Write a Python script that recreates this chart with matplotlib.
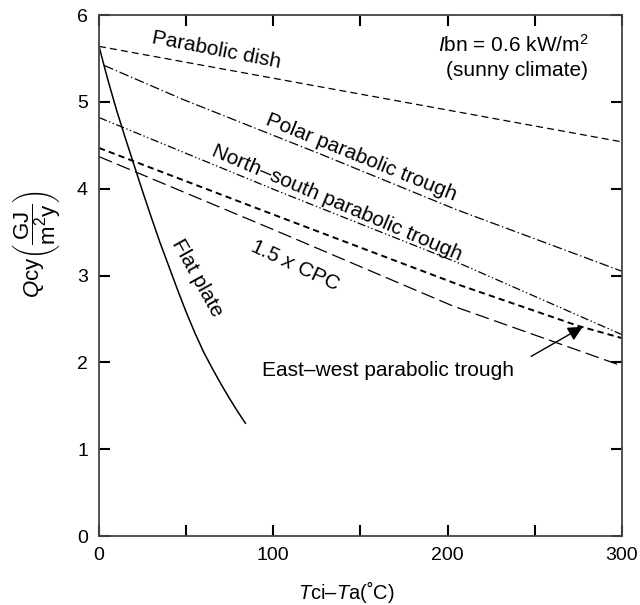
import matplotlib
matplotlib.use("Agg")
import matplotlib.pyplot as plt

plt.rcParams['font.family'] = ['Liberation Sans', 'DejaVu Sans']
plt.rcParams['mathtext.fontset'] = 'custom'
plt.rcParams['mathtext.rm'] = 'Liberation Sans'
plt.rcParams['mathtext.it'] = 'Liberation Sans:italic'
plt.rcParams['lines.scale_dashes'] = False

# values
dish_x = [0, 300]
dish_y = [5.64, 4.54]

polar_x = [3, 48, 127, 205, 300]
polar_y = [5.42, 5.03, 4.40, 3.76, 3.05]

ns_x = [0, 103, 207, 300]
ns_y = [4.82, 3.97, 3.14, 2.32]

ew_x = [0, 103, 207, 275, 300]
ew_y = [4.47, 3.68, 2.89, 2.42, 2.28]

cpc_x = [0, 100, 203, 300]
cpc_y = [4.37, 3.53, 2.65, 1.96]

flat_x = [0, 5, 10, 15, 20, 25, 30, 35, 40, 45, 50, 55, 60, 65, 70, 75, 80, 84]
flat_y = [5.64, 5.26, 4.91, 4.59, 4.28, 3.97, 3.67, 3.38, 3.11, 2.84, 2.58,
          2.34, 2.12, 1.93, 1.75, 1.58, 1.42, 1.30]

fig = plt.figure(figsize=(6.4, 6.05), dpi=100)
ax = fig.add_axes([0.1547, 0.114, 0.817, 0.861])

ax.plot(dish_x, dish_y, color='black', lw=0.9, dashes=(5, 3))
ax.plot(polar_x, polar_y, color='black', lw=0.9, dashes=(7, 2, 1, 2))
ax.plot(ns_x, ns_y, color='black', lw=0.9, dashes=(6, 1.8, 1, 1.8, 1, 1.8))
ax.plot(ew_x, ew_y, color='black', lw=1.4, dashes=(4.5, 3))
ax.plot(cpc_x, cpc_y, color='black', lw=0.9, dashes=(10, 4))
ax.plot(flat_x, flat_y, color='black', lw=1.1)

fs = 15
ax.text(67.5, 5.60, "Parabolic dish", rotation=-11, ha='center', va='center', fontsize=fs)
ax.text(150.6, 4.36, "Polar parabolic trough", rotation=-22, ha='center', va='center', fontsize=fs)
ax.text(136.5, 3.84, "North\u2013south parabolic trough", rotation=-23, ha='center', va='center', fontsize=fs)
ax.text(112.4, 3.12, "1.5 $x$ CPC", rotation=-25, ha='center', va='center', fontsize=fs)
ax.text(56.4, 2.97, "Flat plate", rotation=-61, ha='center', va='center', fontsize=fs)
ax.text(93.5, 1.91, "East\u2013west parabolic trough", ha='left', va='center', fontsize=fs)
ax.text(280.6, 5.66, "$I$bn = 0.6 kW/m$^2$", ha='right', va='center', fontsize=fs)
ax.text(280.6, 5.36, "(sunny climate)", ha='right', va='center', fontsize=fs)

ax.annotate("", xy=(277.5, 2.41), xytext=(248, 2.07),
            arrowprops=dict(arrowstyle='-|>', mutation_scale=22, lw=1.0, color='black',
                            shrinkA=0, shrinkB=0))

ax.set_xlim(0, 300)
ax.set_ylim(0, 6)
ax.set_xticks([0, 50, 100, 150, 200, 250, 300])
ax.set_xticklabels(['0', '', '100', '', '200', '', '300'])
ax.set_yticks([0, 1, 2, 3, 4, 5, 6])
ax.tick_params(direction='in', length=8, width=1.5, top=True, right=True,
               labelsize=14, pad=8, color='black')
for s in ax.spines.values():
    s.set_color('#444444')
    s.set_linewidth(1.3)

ax.set_xlabel("$T$ci\u2013$T$a(\u02daC)", fontsize=14.5)
ax.xaxis.set_label_coords(0.474, -0.083)
ax.set_ylabel(r"$Q$cy$\left(\dfrac{\mathrm{GJ}}{\mathrm{m^2y}}\right)$", fontsize=16)
ax.yaxis.set_label_coords(-0.071, 0.56)

fig.savefig("out.png", dpi=100)
